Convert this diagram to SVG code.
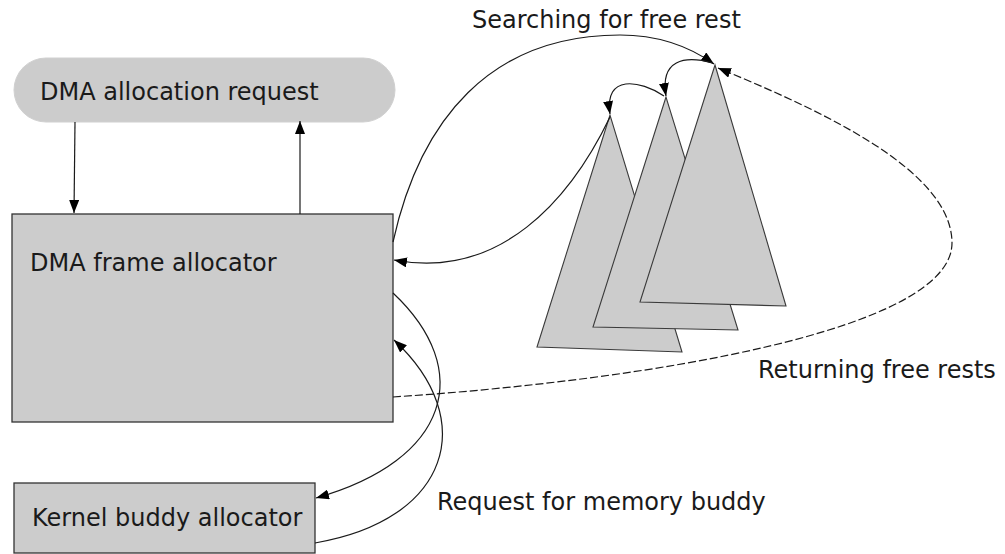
<svg xmlns="http://www.w3.org/2000/svg" width="1005" height="554" viewBox="0 0 1005 554">
<style>
.box{fill:#cccccc;stroke:#333333;stroke-width:1.3}
.pill{fill:#cccccc;stroke:#d0d0d0;stroke-width:1}
.tri{fill:#cccccc;stroke:#3a3a3a;stroke-width:1.1;stroke-linejoin:miter}
.lbl{font-family:"DejaVu Sans",sans-serif;font-size:24px;fill:#1a1a1a}
.edge{fill:none;stroke:#1a1a1a;stroke-width:1.2}
.dash{fill:none;stroke:#1a1a1a;stroke-width:1.2;stroke-dasharray:8,3}
</style>
<defs>
<marker id="ah" viewBox="0 0 13 10" refX="13" refY="5" markerWidth="13" markerHeight="10" markerUnits="userSpaceOnUse" orient="auto">
<path d="M0,0 L13,5 L0,10 z" fill="#000"/>
</marker>
</defs>
<rect width="1005" height="554" fill="#ffffff"/>
<g id="req">
<rect class="pill" x="14" y="58" width="381" height="64" rx="32" ry="32"/>
<text class="lbl" x="40" y="100">DMA allocation request</text>
</g>
<g id="frame">
<rect class="box" x="12" y="214" width="381" height="208"/>
<text class="lbl" x="30" y="271">DMA frame allocator</text>
</g>
<g id="kernel">
<rect class="box" x="14" y="483" width="301" height="70"/>
<text class="lbl" x="32" y="526">Kernel buddy allocator</text>
</g>
<g id="trees">
<polygon class="tri" points="610,115 537,347 682,352"/>
<polygon class="tri" points="666,97 593,327 738,330"/>
<polygon class="tri" points="715,65 640,302 786,306"/>
</g>
<g id="labels">
<text class="lbl" x="472" y="28">Searching for free rest</text>
<text class="lbl" x="758" y="378">Returning free rests</text>
<text class="lbl" x="437" y="510">Request for memory buddy</text>
</g>
<g id="connectors">
<path class="edge" d="M75,122 L74,213" marker-end="url(#ah)"/>
<path class="edge" d="M300,214 L300,121" marker-end="url(#ah)"/>
<path class="edge" d="M393,242 C420,120 490,35 620,35 C660,35 690,47 714,64" marker-end="url(#ah)"/>
<path class="edge" d="M713,63 C684,55 660,60 666,96" marker-end="url(#ah)"/>
<path class="edge" d="M664,96 C640,80 604,74 610,114" marker-end="url(#ah)"/>
<path class="edge" d="M610,117 C570,200 500,280 394,260" marker-end="url(#ah)"/>
<path class="dash" d="M393,397 C650,380 952,330 952,243 C952,170 820,110 718,68" marker-end="url(#ah)"/>
<path class="edge" d="M393,293 C475,370 450,460 316,498" marker-end="url(#ah)"/>
<path class="edge" d="M315,543 C450,520 480,420 394,340" marker-end="url(#ah)"/>
</g>
</svg>
